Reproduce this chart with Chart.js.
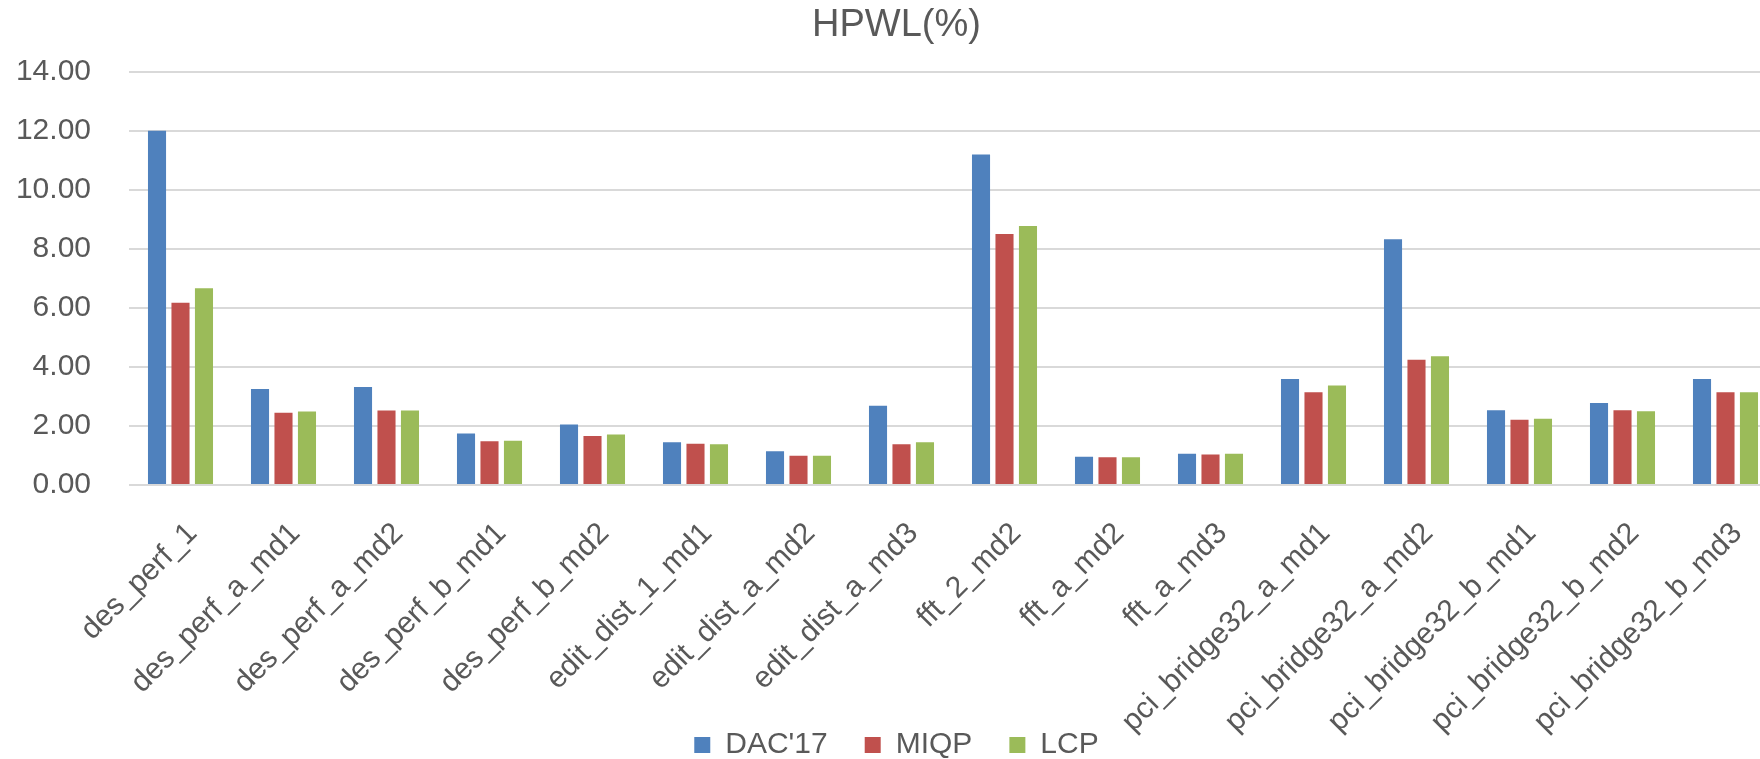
<!DOCTYPE html>
<html lang="en">

<head>
    <meta charset="UTF-8">
    <script src="https://cdn.jsdelivr.net/npm/chart.js@4.4.0/dist/chart.umd.min.js"></script>
    <title>HPWL(%)</title>
    <style>
        html, body {
            margin: 0;
            padding: 0;
            overflow: hidden;
            background: #ffffff;
        }
        #wrap {
            width: 1780px;
            height: 759px;
        }
    </style>
</head>

<body>
    <div id="wrap"><canvas id="myChart"></canvas></div>
    <script>
        const designs = ['des_perf_1', 'des_perf_a_md1', 'des_perf_a_md2', 'des_perf_b_md1', 'des_perf_b_md2',
            'edit_dist_1_md1', 'edit_dist_a_md2', 'edit_dist_a_md3', 'fft_2_md2', 'fft_a_md2', 'fft_a_md3',
            'pci_bridge32_a_md1', 'pci_bridge32_a_md2', 'pci_bridge32_b_md1', 'pci_bridge32_b_md2', 'pci_bridge32_b_md3'];
        const dac17 = [12.00, 3.25, 3.32, 1.74, 2.05, 1.45, 1.14, 2.68, 11.19, 0.96, 1.06, 3.59, 8.32, 2.53, 2.78, 3.59];
        const miqp = [6.17, 2.45, 2.52, 1.48, 1.66, 1.40, 0.99, 1.38, 8.50, 0.94, 1.03, 3.14, 4.24, 2.21, 2.53, 3.14];
        const lcp = [6.66, 2.49, 2.52, 1.50, 1.71, 1.38, 0.99, 1.45, 8.77, 0.94, 1.06, 3.37, 4.36, 2.24, 2.50, 3.14];
        const yTicks = [0, 2, 4, 6, 8, 10, 12, 14];

        const textColor = '#595959';
        const fontFamily = "'Liberation Sans', Arial, sans-serif";

        // the rotated x labels run down beside the legend, so let them draw past the axis box
        const unclipLabels = {
            id: 'unclipLabels',
            afterLayout(chart) {
                chart.scales.x.bottom = chart.height;
            }
        };

        var ctx = document.getElementById('myChart').getContext('2d');
        var myChart = new Chart(ctx, {
            type: 'bar',
            data: {
                labels: designs,
                datasets: [
                    { label: "DAC'17", data: dac17, backgroundColor: '#4f81bd' },
                    { label: 'MIQP', data: miqp, backgroundColor: '#c0504d' },
                    { label: 'LCP', data: lcp, backgroundColor: '#9bbb59' }
                ]
            },
            plugins: [unclipLabels],
            options: {
                responsive: true,
                maintainAspectRatio: false,
                animation: false,
                categoryPercentage: 0.684,
                barPercentage: 0.77,
                layout: {
                    padding: { left: 16, right: 3, top: 0, bottom: -11 }
                },
                plugins: {
                    title: {
                        display: true,
                        text: 'HPWL(%)',
                        color: textColor,
                        font: { family: fontFamily, size: 38, weight: 'normal', lineHeight: 1.2 },
                        padding: { top: 3, bottom: 23 }
                    },
                    legend: {
                        position: 'bottom',
                        labels: {
                            color: textColor,
                            font: { family: fontFamily, size: 30 },
                            boxWidth: 16,
                            boxHeight: 16,
                            padding: 37
                        }
                    },
                    tooltip: { enabled: false }
                },
                scales: {
                    x: {
                        grid: { display: false },
                        border: { display: false },
                        ticks: {
                            color: textColor,
                            font: { family: fontFamily, size: 30 },
                            minRotation: 45,
                            maxRotation: 45,
                            autoSkip: false,
                            padding: 23,
                            labelOffset: 12
                        },
                        afterFit: function (scale) {
                            scale.height = 208;
                        }
                    },
                    y: {
                        min: 0,
                        max: 14,
                        afterBuildTicks: function (scale) {
                            scale.ticks = yTicks.map(v => ({ value: v }));
                        },
                        afterFit: function (scale) {
                            scale.width = 113;
                        },
                        grid: { color: '#d9d9d9', lineWidth: 2, drawTicks: false },
                        border: { display: false },
                        ticks: {
                            color: textColor,
                            font: { family: fontFamily, size: 30 },
                            padding: 38,
                            callback: v => Number(v).toFixed(2)
                        }
                    }
                }
            }
        });
    </script>
</body>

</html>
